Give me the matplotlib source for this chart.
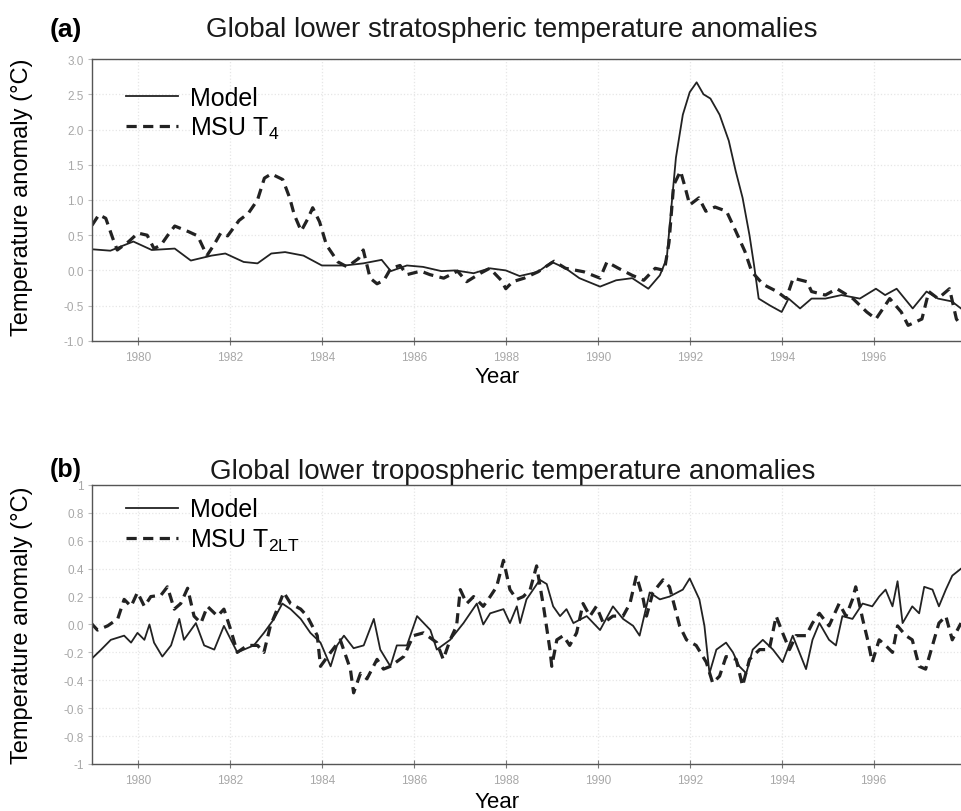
import numpy as np
import matplotlib
matplotlib.use("Agg")
import matplotlib.pyplot as plt

plt.rcParams['font.family'] = ['Liberation Sans', 'DejaVu Sans']
plt.rcParams['mathtext.fontset'] = 'custom'
plt.rcParams['mathtext.rm'] = 'Liberation Sans'
plt.rcParams['mathtext.it'] = 'Liberation Sans:italic'

# ---- (a) lower stratosphere ----
strat_model_yr = [1979.0, 1979.4, 1979.9, 1980.3, 1980.8, 1981.15, 1981.6, 1981.9, 1982.3, 1982.6,
                  1982.9, 1983.2, 1983.6, 1984.0, 1984.5, 1984.9, 1985.3, 1985.5, 1985.85, 1986.2,
                  1986.6, 1986.9, 1987.3, 1987.65, 1988.0, 1988.3, 1988.7, 1989.0, 1989.3, 1989.6,
                  1990.05, 1990.4, 1990.75, 1991.1, 1991.35, 1991.5, 1991.6, 1991.7, 1991.85, 1992.0,
                  1992.15, 1992.3, 1992.45, 1992.65, 1992.85, 1993.0, 1993.15, 1993.3, 1993.4, 1993.5,
                  1993.75, 1994.0, 1994.15, 1994.4, 1994.65, 1994.95, 1995.3, 1995.7, 1996.05, 1996.25,
                  1996.5, 1996.85, 1997.15, 1997.4, 1997.7, 1997.9]
strat_model = [0.30, 0.28, 0.41, 0.29, 0.31, 0.14, 0.21, 0.24, 0.12, 0.10,
               0.24, 0.26, 0.21, 0.07, 0.07, 0.10, 0.15, -0.01, 0.07, 0.05,
               -0.01, 0.00, -0.04, 0.03, 0.00, -0.08, -0.02, 0.12, 0.03, -0.11,
               -0.23, -0.14, -0.11, -0.26, -0.07, 0.17, 0.89, 1.60, 2.21, 2.53,
               2.67, 2.50, 2.44, 2.21, 1.84, 1.41, 1.03, 0.50, 0.07, -0.40,
               -0.50, -0.59, -0.40, -0.54, -0.40, -0.40, -0.35, -0.40, -0.26, -0.35,
               -0.26, -0.54, -0.30, -0.40, -0.44, -0.54]

strat_msu_yr = [1979.0, 1979.15, 1979.3, 1979.45, 1979.55, 1979.8, 1980.0, 1980.2, 1980.35, 1980.5,
                1980.65, 1980.8, 1981.1, 1981.3, 1981.5, 1981.65, 1981.8, 1981.95, 1982.2, 1982.4,
                1982.6, 1982.75, 1982.9, 1983.15, 1983.3, 1983.4, 1983.55, 1983.7, 1983.8, 1983.95,
                1984.1, 1984.35, 1984.55, 1984.8, 1984.9, 1985.05, 1985.2, 1985.35, 1985.5, 1985.7,
                1985.85, 1986.15, 1986.35, 1986.65, 1986.95, 1987.15, 1987.45, 1987.65, 1987.9, 1988.0,
                1988.15, 1988.4, 1988.7, 1989.05, 1989.3, 1989.7, 1990.05, 1990.2, 1990.45, 1990.75,
                1991.0, 1991.25, 1991.45, 1991.55, 1991.65, 1991.8, 1991.9, 1992.0, 1992.2, 1992.35,
                1992.55, 1992.8, 1993.0, 1993.2, 1993.35, 1993.6, 1993.9, 1994.1, 1994.25, 1994.55,
                1994.65, 1994.95, 1995.2, 1995.55, 1995.85, 1996.05, 1996.35, 1996.6, 1996.75, 1997.05,
                1997.2, 1997.4, 1997.65, 1997.8, 1997.9]
strat_msu = [0.64, 0.79, 0.74, 0.46, 0.29, 0.41, 0.53, 0.50, 0.31, 0.36,
             0.50, 0.63, 0.55, 0.49, 0.21, 0.36, 0.53, 0.49, 0.71, 0.81,
             1.00, 1.31, 1.37, 1.29, 1.03, 0.79, 0.56, 0.74, 0.89, 0.69,
             0.36, 0.12, 0.05, 0.17, 0.29, -0.11, -0.19, -0.14, 0.03, 0.07,
             -0.06, -0.01, -0.06, -0.11, -0.01, -0.16, -0.04, 0.03, -0.14, -0.26,
             -0.16, -0.11, -0.02, 0.13, 0.03, -0.02, -0.11, 0.12, 0.03, -0.07,
             -0.14, 0.03, 0.00, 0.40, 1.21, 1.41, 1.18, 0.93, 1.03, 0.84,
             0.90, 0.84, 0.56, 0.27, -0.02, -0.20, -0.30, -0.40, -0.11, -0.16,
             -0.30, -0.35, -0.26, -0.40, -0.59, -0.69, -0.40, -0.59, -0.78, -0.69,
             -0.30, -0.40, -0.26, -0.69, -0.78]

# ---- (b) lower troposphere ----
trop_model_yr = [1978.98, 1979.2, 1979.41, 1979.7, 1979.85, 1979.99, 1980.14, 1980.25, 1980.35, 1980.53,
                 1980.72, 1980.9, 1981.0, 1981.26, 1981.44, 1981.66, 1981.87, 1982.16, 1982.52, 1982.74,
                 1982.96, 1983.14, 1983.32, 1983.54, 1983.75, 1983.97, 1984.19, 1984.33, 1984.48, 1984.69,
                 1984.91, 1985.13, 1985.27, 1985.49, 1985.63, 1985.85, 1986.07, 1986.36, 1986.5, 1986.79,
                 1987.08, 1987.37, 1987.51, 1987.66, 1987.95, 1988.09, 1988.24, 1988.31, 1988.45, 1988.74,
                 1988.89, 1989.03, 1989.18, 1989.32, 1989.47, 1989.76, 1990.05, 1990.33, 1990.55, 1990.77,
                 1990.91, 1991.13, 1991.35, 1991.56, 1991.85, 1992.0, 1992.21, 1992.32, 1992.43, 1992.58,
                 1992.79, 1992.94, 1993.08, 1993.23, 1993.37, 1993.59, 1993.81, 1994.02, 1994.24, 1994.53,
                 1994.67, 1994.82, 1995.03, 1995.18, 1995.32, 1995.54, 1995.76, 1995.97, 1996.12, 1996.26,
                 1996.41, 1996.52, 1996.63, 1996.84, 1996.99, 1997.1, 1997.28, 1997.42, 1997.57, 1997.71,
                 1997.9]
trop_model = [-0.25, -0.18, -0.11, -0.08, -0.13, -0.06, -0.11, 0.00, -0.13, -0.23,
              -0.15, 0.04, -0.11, 0.01, -0.15, -0.18, -0.01, -0.20, -0.15, -0.06,
              0.04, 0.15, 0.11, 0.04, -0.06, -0.13, -0.30, -0.15, -0.08, -0.17,
              -0.15, 0.04, -0.18, -0.30, -0.15, -0.15, 0.06, -0.04, -0.18, -0.11,
              0.01, 0.15, 0.00, 0.08, 0.11, 0.01, 0.13, 0.01, 0.18, 0.32,
              0.29, 0.13, 0.06, 0.11, 0.01, 0.06, -0.04, 0.13, 0.04, -0.01,
              -0.08, 0.23, 0.18, 0.20, 0.25, 0.33, 0.18, -0.01, -0.35, -0.18,
              -0.13, -0.20, -0.30, -0.35, -0.18, -0.11, -0.18, -0.27, -0.08, -0.32,
              -0.11, 0.01, -0.11, -0.15, 0.06, 0.04, 0.15, 0.13, 0.20, 0.25,
              0.13, 0.31, 0.01, 0.13, 0.08, 0.27, 0.25, 0.13, 0.25, 0.35,
              0.40]

trop_msu_yr = [1978.98, 1979.12, 1979.34, 1979.56, 1979.7, 1979.85, 1979.99, 1980.14, 1980.28, 1980.5,
               1980.64, 1980.79, 1980.93, 1981.08, 1981.22, 1981.37, 1981.51, 1981.73, 1981.87, 1982.02,
               1982.16, 1982.38, 1982.6, 1982.74, 1982.88, 1983.03, 1983.17, 1983.32, 1983.54, 1983.68,
               1983.9, 1983.97, 1984.19, 1984.4, 1984.62, 1984.69, 1984.84, 1984.98, 1985.2, 1985.34,
               1985.49, 1985.78, 1985.99, 1986.21, 1986.5, 1986.64, 1986.79, 1986.93, 1987.01, 1987.15,
               1987.3, 1987.51, 1987.66, 1987.8, 1987.95, 1988.09, 1988.24, 1988.38, 1988.53, 1988.67,
               1988.82, 1988.96, 1989.0, 1989.11, 1989.25, 1989.39, 1989.54, 1989.68, 1989.83, 1989.97,
               1990.12, 1990.33, 1990.55, 1990.7, 1990.84, 1990.99, 1991.06, 1991.2, 1991.42, 1991.56,
               1991.71, 1991.78, 1991.93, 1992.14, 1992.36, 1992.5, 1992.65, 1992.79, 1993.01, 1993.15,
               1993.3, 1993.52, 1993.73, 1993.88, 1994.02, 1994.17, 1994.31, 1994.53, 1994.67, 1994.82,
               1995.03, 1995.25, 1995.4, 1995.54, 1995.61, 1995.76, 1995.87, 1995.97, 1996.12, 1996.26,
               1996.41, 1996.52, 1996.7, 1996.84, 1996.99, 1997.13, 1997.28, 1997.42, 1997.57, 1997.71,
               1997.9]
trop_msu = [0.01, -0.04, -0.01, 0.04, 0.18, 0.13, 0.23, 0.13, 0.20, 0.21,
            0.27, 0.11, 0.15, 0.26, 0.06, 0.01, 0.13, 0.06, 0.11, -0.04,
            -0.20, -0.15, -0.15, -0.20, -0.01, 0.11, 0.23, 0.15, 0.11, 0.06,
            -0.08, -0.30, -0.20, -0.11, -0.32, -0.49, -0.35, -0.39, -0.25, -0.32,
            -0.30, -0.23, -0.08, -0.06, -0.13, -0.25, -0.11, -0.01, 0.25, 0.15,
            0.20, 0.13, 0.20, 0.27, 0.46, 0.25, 0.18, 0.20, 0.25, 0.42,
            0.13, -0.18, -0.30, -0.11, -0.08, -0.15, -0.06, 0.15, 0.06, 0.13,
            0.01, 0.06, 0.06, 0.15, 0.35, 0.18, 0.06, 0.23, 0.32, 0.27,
            0.08, -0.01, -0.11, -0.15, -0.27, -0.42, -0.37, -0.23, -0.25, -0.44,
            -0.25, -0.18, -0.18, 0.06, -0.06, -0.18, -0.08, -0.08, 0.01, 0.08,
            -0.01, 0.15, 0.06, 0.18, 0.27, 0.04, -0.11, -0.27, -0.11, -0.15,
            -0.20, -0.01, -0.08, -0.11, -0.30, -0.32, -0.15, 0.01, 0.06, -0.11,
            0.01]

year_ticks = [1980, 1982, 1984, 1986, 1988, 1990, 1992, 1994, 1996]
strat_yticks = [-1.0, -0.5, 0.0, 0.5, 1.0, 1.5, 2.0, 2.5, 3.0]
trop_yticks = [-1.0, -0.8, -0.6, -0.4, -0.2, 0.0, 0.2, 0.4, 0.6, 0.8, 1.0]
trop_ylabels = ["-1", "-0.8", "-0.6", "-0.4", "-0.2", "0.0", "0.2", "0.4", "0.6", "0.8", "1"]

INK = "#222222"
TICK = "#a8a8a8"


def style_axes(ax, yticks, ylabels, ylim):
    ax.set_xlim(1979.0, 1997.9)
    ax.set_ylim(*ylim)
    ax.set_xticks(year_ticks)
    ax.set_xticklabels([str(y) for y in year_ticks])
    ax.set_yticks(yticks)
    ax.set_yticklabels(ylabels)
    ax.spines["right"].set_visible(False)
    for s in ("left", "top", "bottom"):
        ax.spines[s].set_color("#555555")
        ax.spines[s].set_linewidth(1.0)
    ax.tick_params(axis="x", direction="inout", length=6, colors="#777777",
                   labelcolor=TICK, labelsize=8.5, pad=4)
    ax.tick_params(axis="y", direction="out", length=3, colors="#bbbbbb",
                   labelcolor=TICK, labelsize=8.5, pad=3)
    ax.grid(True, color="#e6e6e6", linestyle=":", linewidth=0.9)
    ax.set_axisbelow(True)


fig = plt.figure(figsize=(9.61, 8.12), dpi=100)

# panel (a)
ax1 = fig.add_axes([0.0957, 0.579, 0.9043, 0.347])
ax1.plot(strat_model_yr, strat_model, color=INK, lw=1.3, label="Model")
ax1.plot(strat_msu_yr, strat_msu, color=INK, lw=2.3, ls=(0, (3.2, 2.0)), label="MSU T$_\\mathrm{4}$")
style_axes(ax1, strat_yticks, ["%.1f" % v for v in strat_yticks], (-1.0, 3.0))
ax1.legend(loc="upper left", bbox_to_anchor=(0.013, 0.985), frameon=False, fontsize=18,
           handlelength=2.1, handletextpad=0.45, labelspacing=0.2)

# panel (b)
ax2 = fig.add_axes([0.0957, 0.0579, 0.9043, 0.3436])
ax2.plot(trop_model_yr, trop_model, color=INK, lw=1.3, label="Model")
ax2.plot(trop_msu_yr, trop_msu, color=INK, lw=2.3, ls=(0, (3.2, 2.0)), label="MSU T$_\\mathrm{2LT}$")
style_axes(ax2, trop_yticks, trop_ylabels, (-1.0, 1.0))
ax2.legend(loc="upper left", bbox_to_anchor=(0.013, 1.036), frameon=False, fontsize=18,
           handlelength=2.1, handletextpad=0.45, labelspacing=0.2)

# titles, axis labels
fig.text(0.052, 0.963, "(a)", fontsize=19, fontweight="bold", va="center")
fig.text(0.533, 0.963, "Global lower stratospheric temperature anomalies", fontsize=20,
         ha="center", va="center", color="#1a1a1a")
fig.text(0.052, 0.4215, "(b)", fontsize=18, fontweight="bold", va="center")
fig.text(0.533, 0.4185, "Global lower tropospheric temperature anomalies", fontsize=20,
         ha="center", va="center", color="#1a1a1a")

fig.text(0.517, 0.535, "Year", fontsize=16, ha="center", va="center")
fig.text(0.517, 0.012, "Year", fontsize=16, ha="center", va="center")
fig.text(0.023, 0.757, "Temperature anomaly (\u00b0C)", fontsize=17, rotation=90,
         ha="center", va="center")
fig.text(0.023, 0.230, "Temperature anomaly (\u00b0C)", fontsize=17, rotation=90,
         ha="center", va="center")

fig.savefig("out.png", dpi=100)
